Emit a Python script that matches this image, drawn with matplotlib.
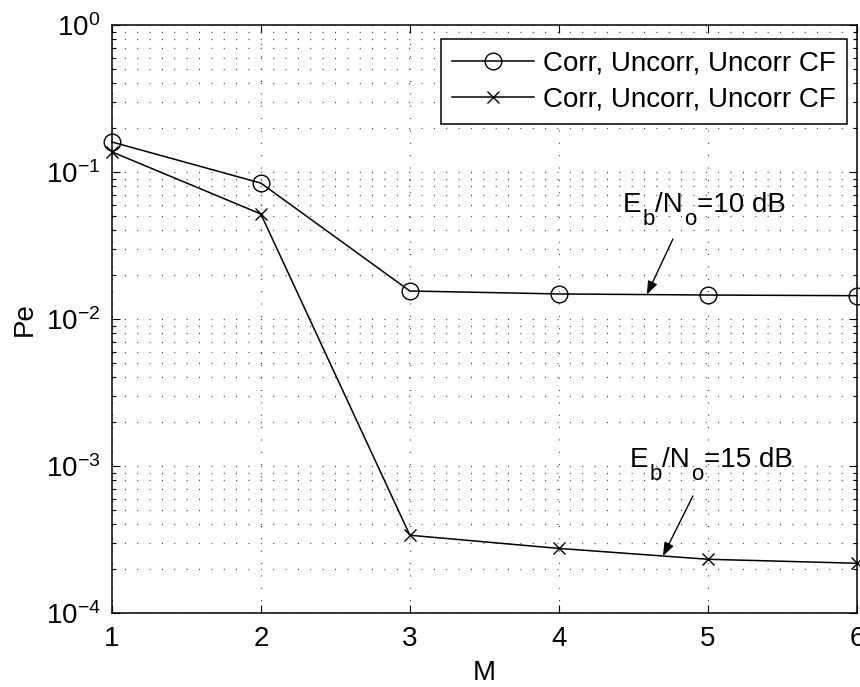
import numpy as np
import matplotlib
matplotlib.use('Agg')
import matplotlib.pyplot as plt
from matplotlib.ticker import LogLocator, NullFormatter

# Error probability vs M for the two Eb/No cases
M = [1, 2, 3, 4, 5, 6]
pe_10db = [0.160, 0.084, 0.0155, 0.0148, 0.01455, 0.0144]
pe_15db = [0.137, 0.0518, 3.38e-4, 2.75e-4, 2.32e-4, 2.18e-4]
legend_labels = ['Corr, Uncorr, Uncorr CF', 'Corr, Uncorr, Uncorr CF']

plt.rcParams['font.family'] = ['Liberation Sans', 'DejaVu Sans']
plt.rcParams['mathtext.fontset'] = 'custom'
plt.rcParams['mathtext.rm'] = 'Liberation Sans'
plt.rcParams['mathtext.it'] = 'Liberation Sans:italic'
plt.rcParams['mathtext.default'] = 'regular'
plt.rcParams['lines.scale_dashes'] = False

fs = 20

fig = plt.figure(figsize=(8.6, 6.87), dpi=100)
ax = fig.add_axes([0.130, 0.1077, 0.8665, 0.856])

ax.plot(M, pe_10db, color='black', linewidth=1.1, marker='o', markersize=12,
        markerfacecolor='none', markeredgecolor='black', markeredgewidth=1.0,
        label=legend_labels[0], clip_on=False, zorder=3)
ax.plot(M, pe_15db, color='black', linewidth=1.1, marker='x', markersize=9,
        markeredgewidth=1.0, label=legend_labels[1], clip_on=False, zorder=3)

ax.set_yscale('log')
ax.set_xlim(1, 6)
ax.set_ylim(1e-4, 1e0)
ax.set_xticks(M)
ax.yaxis.set_major_locator(LogLocator(base=10, numticks=10))
ax.yaxis.set_minor_locator(LogLocator(base=10, subs=np.arange(2, 10), numticks=20))
ax.yaxis.set_minor_formatter(NullFormatter())

# dotted grid
dots = dict(color='0.2', linewidth=0.9, linestyle=(0, (0.7, 8.2)))
ax.grid(True, which='major', axis='both', **dots)
ax.grid(True, which='minor', axis='y', **dots)

ax.tick_params(which='both', direction='in', top=True, right=True,
               labelsize=fs, width=0.8, color='black')
ax.tick_params(which='major', length=5.5, pad=8)
ax.tick_params(which='minor', length=3)
ax.tick_params(axis='x', which='major', pad=9)
for s in ax.spines.values():
    s.set_linewidth(1.1)

ax.set_xlabel('M', fontsize=fs, labelpad=6)
ax.set_ylabel('Pe', fontsize=fs, labelpad=6)

leg = ax.legend(loc='upper right', bbox_to_anchor=(0.9866, 0.976), borderaxespad=0,
                fontsize=fs, frameon=True, fancybox=False, handlelength=2.95,
                handletextpad=0.3, labelspacing=0.35, borderpad=0.42)
leg.get_frame().set_edgecolor('black')
leg.get_frame().set_linewidth(1.1)
leg.get_frame().set_alpha(1)


def on_curve(x, xs, ys):
    return 10 ** np.interp(x, xs, np.log10(ys))


def subscript_label(x, y, pieces, size=fs, sub_size=16, drop=8.6):
    # pieces: list of (text, is_subscript); E_b / N_o style with low subscripts
    prev = None
    level = 0
    for s, is_sub in pieces:
        target = -drop if is_sub else 0
        if prev is None:
            prev = ax.text(x, y, s, fontsize=size, ha='left', va='baseline')
        else:
            prev = ax.annotate(s, xy=(1, 0), xycoords=prev,
                               xytext=(0.5, target - level), textcoords='offset points',
                               fontsize=sub_size if is_sub else size,
                               ha='left', va='bottom')
        level = target


arrow = dict(arrowstyle='-|>,head_length=0.8,head_width=0.3', color='black',
             linewidth=1.0, shrinkA=0, shrinkB=0)

subscript_label(4.430, 0.0534, [('E', False), ('b', True), ('/N', False),
                                ('o', True), ('=10 dB', False)])
ax.annotate('', xy=(4.59, on_curve(4.59, M, pe_10db)), xytext=(4.765, 0.035),
            arrowprops=arrow)

subscript_label(4.477, 9.89e-4, [('E', False), ('b', True), ('/N', False),
                                 ('o', True), ('=15 dB', False)])
ax.annotate('', xy=(4.698, on_curve(4.698, M, pe_15db)), xytext=(4.899, 6.25e-4),
            arrowprops=arrow)

fig.savefig('out.png', dpi=100)
